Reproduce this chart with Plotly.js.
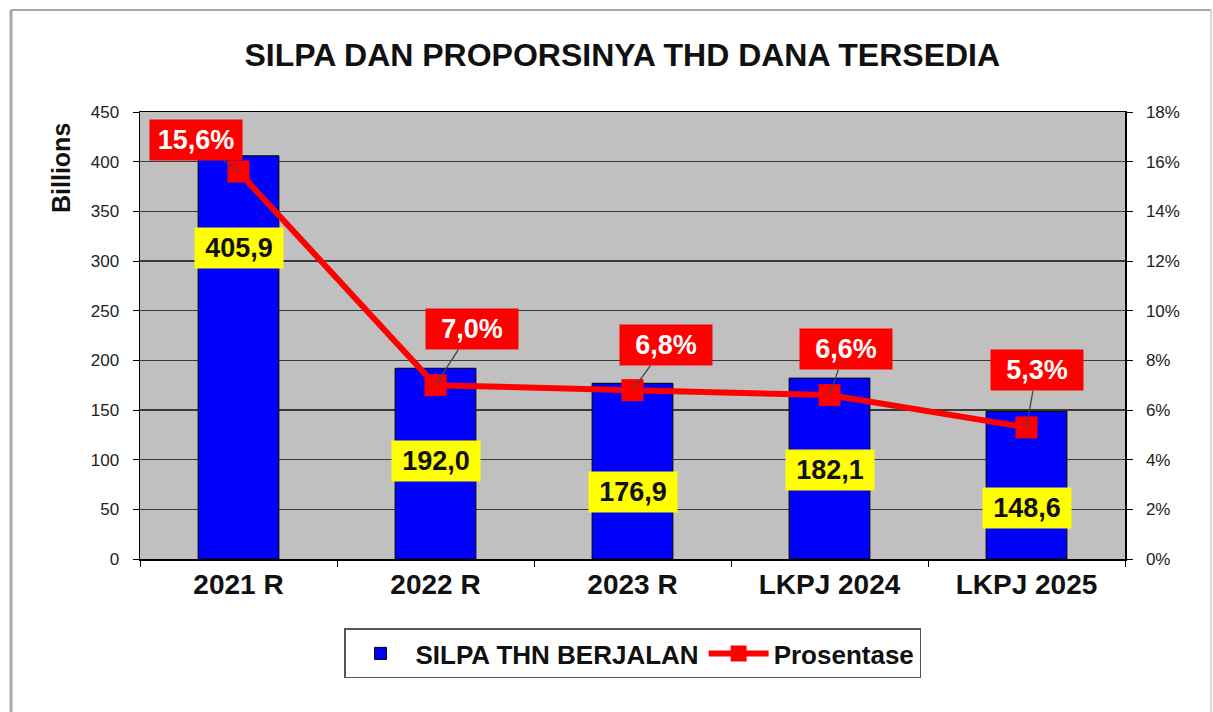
<!DOCTYPE html>
<html>
<head>
<meta charset="utf-8">
<script src="https://cdn.plot.ly/plotly-3.0.1.min.js"></script>
<style>
  html, body { margin: 0; padding: 0; background: #ffffff; }
  #chart { width: 1213px; height: 712px; }
</style>
</head>
<body>
<div id="chart"></div>
<script>
// ---- data ----
const categories = ["2021 R", "2022 R", "2023 R", "LKPJ 2024", "LKPJ 2025"];
const silpaValues = [405.9, 192.0, 176.9, 182.1, 148.6];      // Billions
const percentValues = [15.6, 7.0, 6.8, 6.6, 5.3];             // %
const seriesNames = ["SILPA THN BERJALAN", "Prosentase"];
const leftTicks = [0, 50, 100, 150, 200, 250, 300, 350, 400, 450];
const rightTicks = [0, 2, 4, 6, 8, 10, 12, 14, 16, 18];

// ---- label layout (placement only) ----
const barLabelPosY = [313, 98.7, 67.5, 89.6, 51.3];
const pctLabelOffsets = [[-43, -32], [36, -56], [33, -45], [16, -46], [10, -57]];

const fmt = v => v.toFixed(1).replace('.', ',');
const FONT = 'Liberation Sans, Arial, sans-serif';

const traces = [
  {
    type: 'bar',
    name: seriesNames[0],
    x: categories,
    y: silpaValues,
    width: 0.41,
    marker: { color: '#0000ff', line: { color: '#000000', width: 1 } },
    hoverinfo: 'skip'
  },
  {
    type: 'scatter',
    mode: 'lines+markers',
    name: seriesNames[1],
    x: categories,
    y: percentValues.map(v => v / 100),
    yaxis: 'y2',
    line: { color: '#ff0000', width: 6 },
    marker: { symbol: 'square', size: 22, color: '#ff0000' },
    hoverinfo: 'skip'
  }
];

const annotations = [];
categories.forEach((c, i) => {
  annotations.push({
    xref: 'x', yref: 'y', x: c, y: barLabelPosY[i],
    text: '<b>' + fmt(silpaValues[i]) + '</b>',
    showarrow: false,
    bgcolor: '#ffff00',
    width: 86, height: 38,
    font: { family: FONT, size: 27, color: '#111111' }
  });
  annotations.push({
    xref: 'x', yref: 'y2', x: c, y: percentValues[i] / 100,
    text: '<b>' + fmt(percentValues[i]) + '%</b>',
    showarrow: true, arrowhead: 0, arrowwidth: 1.3, arrowcolor: '#444444',
    ax: pctLabelOffsets[i][0], ay: pctLabelOffsets[i][1],
    bgcolor: '#ff0000',
    width: 90, height: 38,
    font: { family: FONT, size: 27, color: '#ffffff' }
  });
});
annotations.push({
  xref: 'paper', yref: 'paper', x: (61 - 140) / 985, y: (559 - 168) / 447,
  xanchor: 'center', yanchor: 'middle',
  text: '<b>Billions</b>', textangle: -90, showarrow: false,
  font: { family: FONT, size: 25, color: '#111111' }
});

const layout = {
  width: 1213, height: 712, autosize: false,
  margin: { l: 140, r: 88, t: 112, b: 153 },
  paper_bgcolor: '#ffffff',
  plot_bgcolor: '#c0c0c0',
  separators: ',.',
  title: {
    text: '<b>SILPA DAN PROPORSINYA THD DANA TERSEDIA</b>',
    xref: 'container', x: 0.513, xanchor: 'center',
    yref: 'container', y: 1 - 55 / 712, yanchor: 'middle',
    font: { family: FONT, size: 32, color: '#111111' }
  },
  xaxis: {
    type: 'category',
    tickson: 'boundaries',
    ticks: 'outside', ticklen: 6, tickcolor: '#000000', tickwidth: 1,
    showline: true, linecolor: '#000000', linewidth: 1.5, mirror: true,
    showgrid: false,
    tickfont: { family: FONT, size: 28, color: '#111111' },
    tickprefix: '<b>', ticksuffix: '</b>'
  },
  yaxis: {
    range: [0, 450],
    tickvals: leftTicks,
    ticks: 'outside', ticklen: 6, tickcolor: '#000000',
    ticklabelstandoff: 10,
    showline: true, linecolor: '#000000', linewidth: 1.5,
    showgrid: true, gridcolor: '#3a3a3a', gridwidth: 1.5,
    zeroline: false,
    tickfont: { family: FONT, size: 17, color: '#222222' }
  },
  yaxis2: {
    overlaying: 'y', side: 'right',
    range: [0, 0.18],
    tickvals: rightTicks.map(v => v / 100),
    ticktext: rightTicks.map(v => v + '%'),
    ticks: 'outside', ticklen: 6, tickcolor: '#000000',
    ticklabelstandoff: 10,
    showline: true, linecolor: '#000000', linewidth: 1.5,
    showgrid: false, zeroline: false,
    tickfont: { family: FONT, size: 17, color: '#222222' }
  },
  legend: {
    orientation: 'h',
    x: 0.5, xanchor: 'center',
    y: -0.2114, yanchor: 'middle',
    bgcolor: '#ffffff', bordercolor: '#555555', borderwidth: 1.5,
    font: { family: FONT, size: 26, color: '#111111', weight: 'bold' },
    itemwidth: 60
  },
  annotations: annotations,
  shapes: [
    { type: 'line', xref: 'paper', yref: 'paper', x0: (11 - 140) / 985, x1: (11 - 140) / 985, y0: -0.6, y1: (559 - 10) / 447, line: { color: '#a8a8a8', width: 3 } },
    { type: 'line', xref: 'paper', yref: 'paper', x0: (11 - 140) / 985, x1: (1211 - 140) / 985, y0: (559 - 10) / 447, y1: (559 - 10) / 447, line: { color: '#a8a8a8', width: 2 } },
    { type: 'line', xref: 'paper', yref: 'paper', x0: (1211 - 140) / 985, x1: (1211 - 140) / 985, y0: -0.6, y1: (559 - 10) / 447, line: { color: '#cccccc', width: 1.5 } }
  ],
  showlegend: true
};

Plotly.newPlot('chart', traces, layout, { staticPlot: true, displayModeBar: false });
</script>
</body>
</html>
